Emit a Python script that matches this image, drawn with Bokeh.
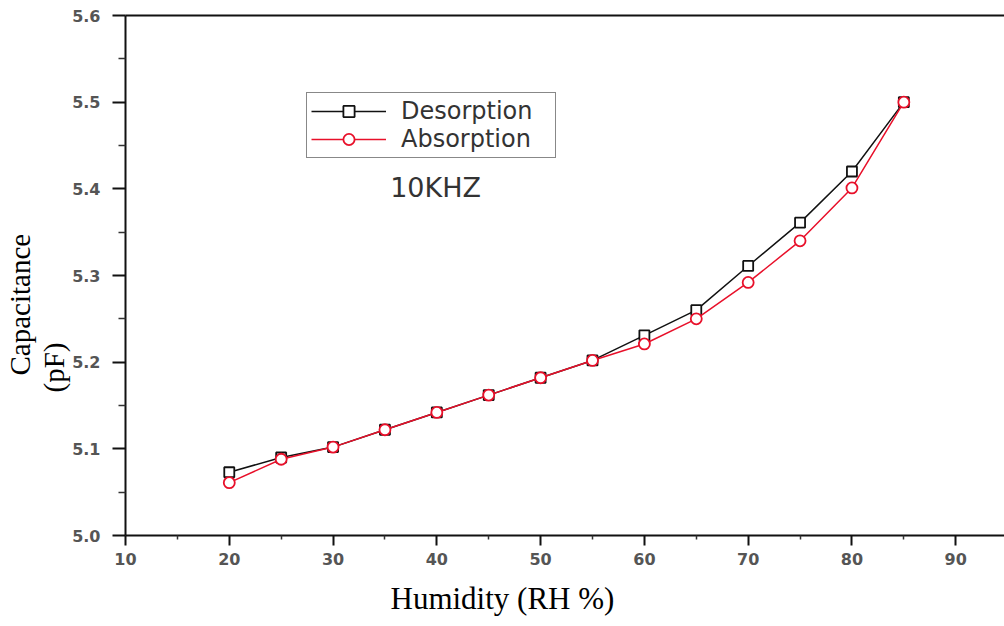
from bokeh.plotting import figure
from bokeh.models import Legend, LegendItem, Label, LinearAxis, Range1d, FixedTicker, NumeralTickFormatter, Title
from bokeh.embed import file_html
from bokeh.resources import INLINE

humidity = [20, 25, 30, 35, 40, 45, 50, 55, 60, 65, 70, 75, 80, 85]
desorption = [5.073, 5.09, 5.102, 5.122, 5.142, 5.162, 5.182, 5.202, 5.231, 5.26, 5.311, 5.361, 5.42, 5.50]
absorption = [5.061, 5.088, 5.102, 5.122, 5.142, 5.162, 5.182, 5.202, 5.221, 5.25, 5.292, 5.34, 5.401, 5.50]
x_ticks = [10, 20, 30, 40, 50, 60, 70, 80, 90]
y_ticks = [5.0, 5.1, 5.2, 5.3, 5.4, 5.5, 5.6]

p = figure(width=1004, height=626, output_backend="svg", toolbar_location=None,
           x_range=Range1d(10, 94.7), y_range=Range1d(5.0, 5.6),
           min_border_left=125, min_border_right=0, min_border_top=15, min_border_bottom=91)
p.outline_line_color = None
p.xgrid.visible = False
p.ygrid.visible = False
p.background_fill_color = "white"
p.border_fill_color = "white"

for ax in (p.xaxis[0], p.yaxis[0]):
    ax.axis_line_width = 2
    ax.axis_line_color = "#111111"
    ax.major_tick_line_width = 2
    ax.major_tick_line_color = "#111111"
    ax.minor_tick_line_color = "#333333"
    ax.minor_tick_line_width = 1.5
    ax.major_tick_in = 0
    ax.minor_tick_in = 0
    ax.major_label_text_font = "DejaVu Sans"
    ax.major_label_text_font_style = "bold"
    ax.major_label_text_color = "#555555"
    ax.major_label_text_font_size = "16px"

p.xaxis[0].ticker = FixedTicker(ticks=x_ticks, minor_ticks=[15, 25, 35, 45, 55, 65, 75, 85])
p.xaxis[0].major_tick_out = 10
p.xaxis[0].minor_tick_out = 4
p.xaxis[0].major_label_standoff = 7
p.yaxis[0].ticker = FixedTicker(ticks=y_ticks, minor_ticks=[5.05, 5.15, 5.25, 5.35, 5.45, 5.55])
p.yaxis[0].formatter = NumeralTickFormatter(format="0.0")
p.yaxis[0].major_tick_out = 13
p.yaxis[0].minor_tick_out = 7
p.yaxis[0].major_label_standoff = 12

top = LinearAxis(ticker=FixedTicker(ticks=[], minor_ticks=[]), major_tick_out=0, minor_tick_out=0,
                 major_tick_in=0, minor_tick_in=0, axis_line_width=2, axis_line_color="#111111")
p.add_layout(top, "above")

l1 = p.line(humidity, desorption, line_color="#111111", line_width=1.5)
s1 = p.scatter(humidity, desorption, marker="square", size=10, fill_color="white",
               line_color="#111111", line_width=1.8)
l2 = p.line(humidity, absorption, line_color="#e8102a", line_width=1.5)
s2 = p.scatter(humidity, absorption, marker="circle", size=11, fill_color="white",
               line_color="#e8102a", line_width=1.8)

legend = Legend(items=[LegendItem(label="Desorption", renderers=[l1, s1]),
                       LegendItem(label="Absorption", renderers=[l2, s2])],
                location=(181, 377))
legend.label_text_font = "DejaVu Sans"
legend.label_text_font_size = "24px"
legend.label_text_color = "#333333"
legend.glyph_width = 75
legend.glyph_height = 28
legend.label_height = 28
legend.label_width = 150
legend.spacing = 0
legend.padding = 4
legend.margin = 0
legend.label_standoff = 15
legend.border_line_color = "#111111"
legend.border_line_width = 1.5
legend.background_fill_color = "white"
legend.background_fill_alpha = 1
p.add_layout(legend, "center")

p.add_layout(Label(x=35.5, y=5.402, text="10KHZ", text_font="DejaVu Sans",
                   text_font_size="27px", text_color="#333333", text_baseline="middle"))

p.add_layout(Title(text="Humidity (RH %)", align="left", offset=265, text_font="Liberation Serif",
                   text_font_size="31px", text_font_style="normal", text_color="black",
                   standoff=22), "below")
p.add_layout(Title(text="(pF)", align="left", offset=143, text_font="Liberation Serif",
                   text_font_size="29px", text_font_style="normal", text_color="black",
                   standoff=0), "left")
p.add_layout(Title(text="Capacitance", align="left", offset=160, text_font="Liberation Serif",
                   text_font_size="29px", text_font_style="normal", text_color="black",
                   standoff=0), "left")

open("out.html", "w").write(file_html(p, INLINE))
